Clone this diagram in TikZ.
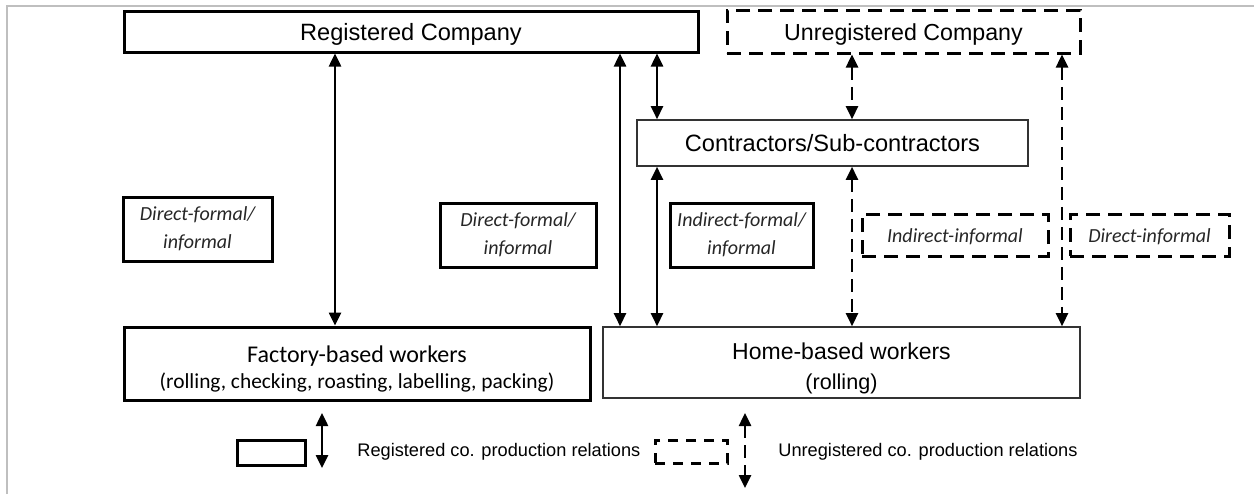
\documentclass[tikz,border=0pt]{standalone}
\usepackage{fontspec}
\setmainfont{Liberation Sans}
\newfontfamily\calib{Carlito}
\usetikzlibrary{arrows.meta,shadows}
\begin{document}
\begin{tikzpicture}[x=0.5pt,y=-0.5pt,
  box/.style={draw, line width=1.5pt, inner sep=0pt, align=center},
  thinbox/.style={draw=black!80, line width=0.8pt, inner sep=0pt, align=center},
  dbox/.style={draw, line width=1.5pt, dash pattern=on 7pt off 4pt, inner sep=0pt, align=center},
  shad/.style={drop shadow={shadow xshift=1.2pt, shadow yshift=-1.2pt, opacity=0.15, fill=black}},
  one/.style={text height=0.72em+1.5pt, text depth=0pt},
  lbl/.style={font=\calib\itshape\fontsize{10}{14}\selectfont, text=black!85},
  tip/.tip={Triangle[width=6pt,length=6.5pt]},
  arr/.style={tip-tip, line width=1.25pt},
  darr/.style={tip-tip, line width=1.25pt, dash pattern=on 6.5pt off 3.5pt},
  txt/.style={inner sep=0pt, align=center}
]
\useasboundingbox (0,0) rectangle (1254,494);
\draw[black!25, line width=0.8pt] (7,494) -- (7,6) -- (1254,6);

% main nodes
\node[box, one, minimum width=287pt, minimum height=20.5pt, font=\fontsize{11.8}{14}\selectfont] (reg) at (411,31.5) {Registered Company};
\node[dbox, one, minimum width=176.5pt, minimum height=21.5pt, font=\fontsize{11.6}{14}\selectfont] (unreg) at (903.5,31.5) {Unregistered Company};
\node[thinbox, one, minimum width=195.5pt, minimum height=23pt, font=\fontsize{11.8}{14}\selectfont] (con) at (832.5,143) {Contractors/Sub-contractors};
\node[box, shad, fill=white, minimum width=233pt, minimum height=36.5pt] (fac) at (357,363.5) {};
\node[txt, font=\calib] (factxt) at (357,369) {{\fontsize{12}{12}\selectfont Factory-based workers}\\[1pt]{\fontsize{10.7}{12}\selectfont (rolling, checking, roasting, labelling, packing)}};
\node[thinbox, minimum width=238.5pt, minimum height=35.5pt] (home) at (841.5,362.5) {};
\node[txt] (hometxt) at (841.5,368) {{\fontsize{11.5}{12}\selectfont Home-based workers}\\[3pt]{\fontsize{10.8}{12}\selectfont(rolling)}};

% relation labels
\node[box, shad, fill=white, lbl, minimum width=74.5pt, minimum height=32pt] (d1) at (197.5,229) {Direct-formal/\\informal};
\node[box, shad, fill=white, lbl, minimum width=78pt, minimum height=32pt] (d2) at (518,235) {Direct-formal/\\informal};
\node[box, shad, fill=white, lbl, minimum width=71.5pt, minimum height=32pt] (d3) at (741.5,235) {Indirect-formal/\\informal};
\node[dbox, lbl, text height=0.72em, text depth=0pt, minimum width=93pt, minimum height=21pt] (ii) at (955,235) {Indirect-informal};
\node[dbox, lbl, text height=0.72em, text depth=0pt, minimum width=79.5pt, minimum height=21pt] (di) at (1149.5,235) {Direct-informal};

% connector columns
\coordinate (c1) at (335,0);
\coordinate (c2) at (620,0);
\coordinate (c3) at (657,0);
\coordinate (c4) at (852,0);
\coordinate (c5) at (1062,0);

\draw[arr] (c1 |- reg.south) -- (c1 |- fac.north);
\draw[arr] (c2 |- reg.south) -- (c2 |- home.north);
\draw[arr] (c3 |- reg.south) -- (c3 |- con.north);
\draw[arr] (c3 |- con.south) -- (c3 |- home.north);
\draw[darr] (c4 |- unreg.south) -- (c4 |- con.north);
\draw[darr] (c4 |- con.south) -- (c4 |- home.north);
\draw[darr] (c5 |- unreg.south) -- (c5 |- home.north);

% legend
\node[box, minimum width=34pt, minimum height=12.5pt] (lb1) at (271,452.5) {};
\coordinate (la1) at (322,413);
\coordinate (lb1e) at (322,468);
\draw[arr] (la1) -- (lb1e);
\node[anchor=west, inner sep=0pt, font=\fontsize{9.1}{11}\selectfont] (lt1) at (357,452) {Registered co. production relations};
\node[draw, line width=1.5pt, dash pattern=on 5pt off 4pt, minimum width=36pt, minimum height=11.5pt, inner sep=0pt] (lb2) at (691,451.5) {};
\coordinate (la2) at (745,413);
\coordinate (lb2e) at (745,488);
\draw[darr] (la2) -- (lb2e);
\node[anchor=west, inner sep=0pt, font=\fontsize{9.1}{11}\selectfont] (lt2) at (778,452) {Unregistered co. production relations};
\end{tikzpicture}
\end{document}
